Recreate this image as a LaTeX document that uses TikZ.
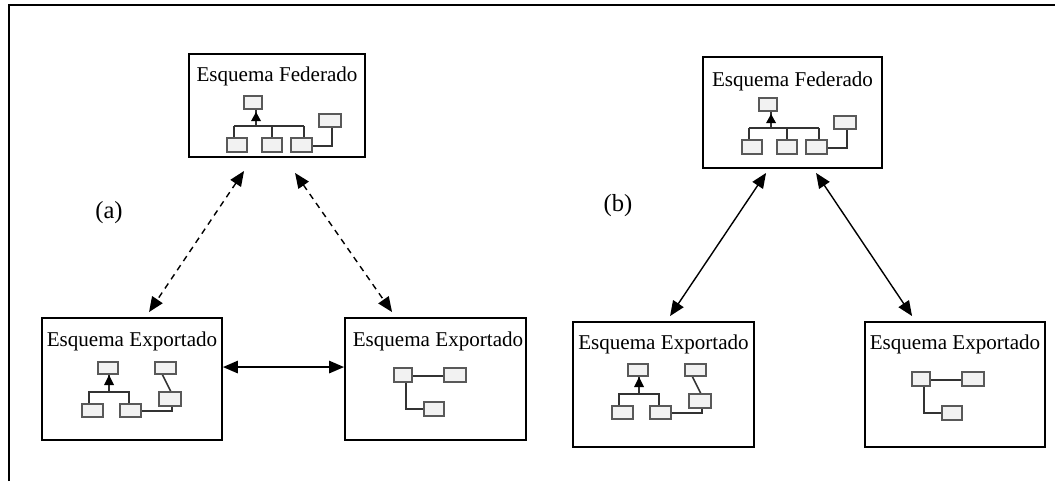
\documentclass[tikz,border=0pt]{standalone}
\usepackage{fontspec}
\setmainfont{Liberation Serif}
\usetikzlibrary{arrows.meta,positioning,calc}
\tikzset{
  schemabox/.style={draw,line width=1.1pt,inner sep=0pt},
  schematitle/.style={inner sep=0pt,font=\fontsize{12}{14}\selectfont},
  caselabel/.style={inner sep=0pt,font=\fontsize{14}{16}\selectfont},
  link/.style={line width=0.8pt,{Triangle[length=0.3cm,width=0.25cm]}-{Triangle[length=0.3cm,width=0.25cm]}},
  iconline/.style={draw=black!80,line width=0.9pt},
  iconbox/.style={draw=black!65,fill=black!5,line width=0.9pt},
  fedicon/.pic={
    \draw[iconline] (29,13) -- (29,30);
    \fill[black] (29,16) -- (24,25) -- (34,25) -- cycle;
    \draw[iconline] (7,30) -- (77,30);
    \foreach \x in {7,45,77}
      \draw[iconline] (\x,30) -- (\x,42);
    \draw[iconline] (85,50) -- (105,50) -- (105,31);
    \draw[iconbox] (17,0) rectangle (35,13);
    \foreach \x/\w in {0/20,35/20,64/21}
      \draw[iconbox] (\x,42) rectangle ++(\w,14);
    \draw[iconbox] (92,18) rectangle (114,31);
  },
  hieraricon/.pic={
    \draw[iconline] (27,12) -- (27,30);
    \fill[black] (27,13) -- (22,23) -- (32,23) -- cycle;
    \draw[iconline] (7,42) -- (7,30) -- (47,30) -- (47,42);
    \draw[iconline] (80,12) -- (89,30);
    \draw[iconline] (59,49) -- (90,49) -- (90,44);
    \draw[iconbox] (16,0) rectangle (36,12);
    \draw[iconbox] (73,0) rectangle (94,12);
    \draw[iconbox] (77,30) rectangle (99,44);
    \foreach \x in {0,38}
      \draw[iconbox] (\x,42) rectangle ++(21,13);
  },
  flaticon/.pic={
    \draw[iconline] (18,8) -- (50,8);
    \draw[iconline] (12,14) -- (12,41) -- (30,41);
    \draw[iconbox] (0,0) rectangle (18,14);
    \draw[iconbox] (50,0) rectangle (72,14);
    \draw[iconbox] (30,34) rectangle (50,48);
  }
}
\begin{document}
\begin{tikzpicture}[x=0.02cm,y=-0.02cm]
\useasboundingbox (0,0) rectangle (1055,481);
\draw[line width=1pt] (9,481) -- (9,5) -- (1060,5);
\node[schemabox,minimum width=3.52cm,minimum height=2.06cm] (fedA) at (277,105.5) {};
\node[schemabox,minimum width=3.60cm,minimum height=2.44cm] (expA1) at (132,379) {};
\node[schemabox,minimum width=3.62cm,minimum height=2.44cm] (expA2) at (435.5,379) {};
\node[schemabox,minimum width=3.58cm,minimum height=2.22cm] (fedB) at (792.5,112.5) {};
\node[schemabox,minimum width=3.62cm,minimum height=2.50cm] (expB1) at (663.5,384.5) {};
\node[schemabox,minimum width=3.60cm,minimum height=2.50cm] (expB2) at (955,384.5) {};
\node[schematitle,below=0.26cm of fedA.north] (fedAtitle) {Esquema Federado};
\node[schematitle,below=0.28cm of expA1.north] (expA1title) {Esquema Exportado};
\node[schematitle,below=0.28cm of expA2.north,xshift=0.05cm] (expA2title) {Esquema Exportado};
\node[schematitle,below=0.30cm of fedB.north] (fedBtitle) {Esquema Federado};
\node[schematitle,below=0.26cm of expB1.north] (expB1title) {Esquema Exportado};
\node[schematitle,below=0.26cm of expB2.north] (expB2title) {Esquema Exportado};
\pic at ($(fedA.north west)+(39,43)$) {fedicon};
\pic at ($(fedB.north west)+(40,42)$) {fedicon};
\pic at ($(expA1.north west)+(41,45)$) {hieraricon};
\pic at ($(expB1.north west)+(40,43)$) {hieraricon};
\pic at ($(expA2.north west)+(50,51)$) {flaticon};
\pic at ($(expB2.north west)+(48,51)$) {flaticon};
\node[caselabel] (labelA) at (109,213) {(a)};
\node[caselabel] (labelB) at (618,206) {(b)};
\draw[link,dash pattern=on 0.12cm off 0.1cm] ($(fedA.south west)+(56,13)$) -- ($(expA1.north west)+(108,-5)$);
\draw[link,dash pattern=on 0.12cm off 0.1cm] ($(fedA.south west)+(107,15)$) -- ($(expA2.north west)+(48,-5)$);
\draw[link] ($(expA1.north east)+(0,50)$) -- ($(expA2.north west)+(0,50)$);
\draw[link] ($(fedB.south west)+(64,4)$) -- ($(expB1.north west)+(98,-5)$);
\draw[link] ($(fedB.south west)+(114,4)$) -- ($(expB2.north west)+(48,-5)$);
\end{tikzpicture}
\end{document}
